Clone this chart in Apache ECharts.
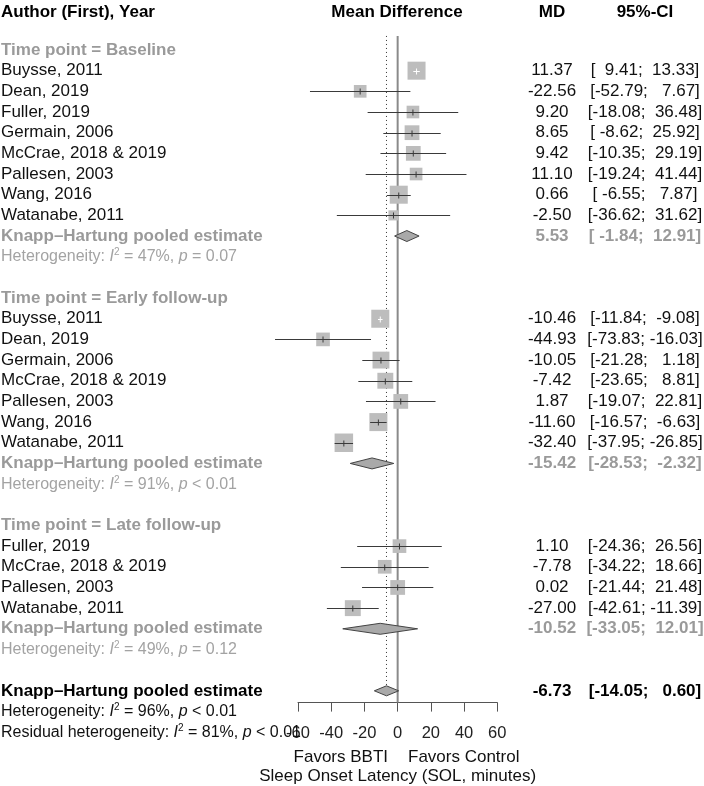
<!DOCTYPE html>
<html><head><meta charset="utf-8">
<script src="https://cdn.jsdelivr.net/npm/echarts@6/dist/echarts.min.js"></script>
<style>html,body{margin:0;padding:0;background:#fff}#c{width:704px;height:786px}</style>
</head><body><div id="c"></div>
<script>
// ---------------- data ----------------
const groupLabels = ['Time point = Baseline', 'Time point = Early follow-up', 'Time point = Late follow-up'];

const baselineAuthors = ['Buysse, 2011', 'Dean, 2019', 'Fuller, 2019', 'Germain, 2006', 'McCrae, 2018 & 2019', 'Pallesen, 2003', 'Wang, 2016', 'Watanabe, 2011'];
const baselineMD = [11.37, -22.56, 9.20, 8.65, 9.42, 11.10, 0.66, -2.50];
const baselineLower = [9.41, -52.79, -18.08, -8.62, -10.35, -19.24, -6.55, -36.62];
const baselineUpper = [13.33, 7.67, 36.48, 25.92, 29.19, 41.44, 7.87, 31.62];
const baselineWeight = [7.3, 3.6, 3.6, 4.9, 4.9, 3.6, 7.3, 2.3];

const earlyAuthors = ['Buysse, 2011', 'Dean, 2019', 'Germain, 2006', 'McCrae, 2018 & 2019', 'Pallesen, 2003', 'Wang, 2016', 'Watanabe, 2011'];
const earlyMD = [-10.46, -44.93, -10.05, -7.42, 1.87, -11.60, -32.40];
const earlyLower = [-11.84, -73.83, -21.28, -23.65, -19.07, -16.57, -37.95];
const earlyUpper = [-9.08, -16.03, 1.18, 8.81, 22.81, -6.63, -26.85];
const earlyWeight = [7.3, 4.2, 6.4, 5.7, 4.9, 7.3, 7.7];

const lateAuthors = ['Fuller, 2019', 'McCrae, 2018 & 2019', 'Pallesen, 2003', 'Watanabe, 2011'];
const lateMD = [1.10, -7.78, 0.02, -27.00];
const lateLower = [-24.36, -34.22, -21.44, -42.61];
const lateUpper = [26.56, 18.66, 21.48, -11.39];
const lateWeight = [4.2, 4.2, 4.9, 5.7];

const pooledLabel = 'Knapp\u2013Hartung pooled estimate';
const pooledMD = [5.53, -15.42, -10.52];
const pooledLower = [-1.84, -28.53, -33.05];
const pooledUpper = [12.91, -2.32, 12.01];
const groupI2 = [47, 91, 49];
const groupP = ['= 0.07', '< 0.01', '= 0.12'];

const overallMD = [-6.73];
const overallLower = [-14.05];
const overallUpper = [0.60];
const overallI2 = [96];
const overallP = ['< 0.01'];
const residualI2 = [81];
const residualP = ['< 0.01'];

const xTicks = [-60, -40, -20, 0, 20, 40, 60];
const headerLabels = ['Author (First), Year', 'Mean Difference', 'MD', '95%-CI'];
const favorLabels = ['Favors BBTI', 'Favors Control'];
const xAxisTitle = 'Sleep Onset Latency (SOL, minutes)';

// ---------------- layout / style ----------------
const FONT = '"Liberation Sans", Arial, Helvetica, sans-serif';
const FS = 17, FS_HET = 16;
const COL_TEXT = '#111', COL_GREY = '#9a9a9a', COL_HET = '#a3a3a3';
const X_LEFT = 1, X_MD = 552, X_CI = 645, X_HEAD_MID = 397;

const groups = [
  {authors: baselineAuthors, md: baselineMD, lo: baselineLower, hi: baselineUpper, w: baselineWeight},
  {authors: earlyAuthors, md: earlyMD, lo: earlyLower, hi: earlyUpper, w: earlyWeight},
  {authors: lateAuthors, md: lateMD, lo: lateLower, hi: lateUpper, w: lateWeight}
];

const fmt = v => v.toFixed(2);
const ci = (lo, hi) => '[' + fmt(lo).padStart(6, ' ') + '; ' + fmt(hi).padStart(6, ' ') + ']';

const studies = [], pooled = [], texts = [];
let row = 0;
function het(i2, p, color, r) {
  texts.push({row: r, x: X_LEFT, align: 'left', rich: true, color: color,
    text: '{n|Heterogeneity: }{i|I}{s|2}{n| = ' + i2 + '%, }{i|p}{n| ' + p + '}'});
}
groups.forEach((g, gi) => {
  texts.push({row: row, x: X_LEFT, align: 'left', text: groupLabels[gi], color: COL_GREY, bold: true});
  row++;
  g.authors.forEach((a, i) => {
    studies.push({row: row, md: g.md[i], lo: g.lo[i], hi: g.hi[i], w: g.w[i]});
    texts.push({row: row, x: X_LEFT, align: 'left', text: a, color: COL_TEXT});
    texts.push({row: row, x: X_MD, align: 'center', text: fmt(g.md[i]), color: COL_TEXT});
    texts.push({row: row, x: X_CI, align: 'center', text: ci(g.lo[i], g.hi[i]), color: COL_TEXT});
    row++;
  });
  pooled.push({row: row, md: pooledMD[gi], lo: pooledLower[gi], hi: pooledUpper[gi], h: 5.5, fill: '#a9a9a9'});
  texts.push({row: row, x: X_LEFT, align: 'left', text: pooledLabel, color: COL_GREY, bold: true});
  texts.push({row: row, x: X_MD, align: 'center', text: fmt(pooledMD[gi]), color: COL_GREY, bold: true});
  texts.push({row: row, x: X_CI, align: 'center', text: ci(pooledLower[gi], pooledUpper[gi]), color: COL_GREY, bold: true});
  row++;
  het(groupI2[gi], groupP[gi], COL_HET, row);
  row += 2;
});
// overall
pooled.push({row: row, md: overallMD[0], lo: overallLower[0], hi: overallUpper[0], h: 5, fill: '#a9a9a9'});
texts.push({row: row, x: X_LEFT, align: 'left', text: pooledLabel, color: '#000', bold: true});
texts.push({row: row, x: X_MD, align: 'center', text: fmt(overallMD[0]), color: '#000', bold: true});
texts.push({row: row, x: X_CI, align: 'center', text: ci(overallLower[0], overallUpper[0]), color: '#000', bold: true});
const overallRow = row;
het(overallI2[0], overallP[0], '#111', row + 1);
texts.push({row: row + 2, x: X_LEFT, align: 'left', rich: true, color: '#111',
  text: '{n|Residual heterogeneity: }{i|I}{s|2}{n| = ' + residualI2[0] + '%, }{i|p}{n| ' + residualP[0] + '}'});
// header
const HEADER_ROW = -1.84;
texts.push({row: HEADER_ROW, x: X_LEFT, align: 'left', text: headerLabels[0], color: '#000', bold: true});
texts.push({row: HEADER_ROW, x: X_HEAD_MID, align: 'center', text: headerLabels[1], color: '#000', bold: true});
texts.push({row: HEADER_ROW, x: X_MD, align: 'center', text: headerLabels[2], color: '#000', bold: true});
texts.push({row: HEADER_ROW, x: X_CI, align: 'center', text: headerLabels[3], color: '#000', bold: true});
// favours labels
const FAVOR_ROW = 34.2;
texts.push({row: FAVOR_ROW, x: 388, align: 'right', text: favorLabels[0], color: '#111'});
texts.push({row: FAVOR_ROW, x: 408, align: 'left', text: favorLabels[1], color: '#111'});

const maxW = Math.max(...baselineWeight, ...earlyWeight, ...lateWeight);
const AXIS_ROW = 31.57;

function richStyles(color) {
  return {
    n: {fontSize: FS_HET, fontFamily: FONT, fill: color, color: color, lineHeight: 18},
    i: {fontSize: FS_HET, fontFamily: FONT, fontStyle: 'italic', fill: color, color: color, lineHeight: 18},
    s: {fontSize: 10, fontFamily: FONT, fill: color, color: color, lineHeight: 10, verticalAlign: 'top'}
  };
}

const chart = echarts.init(document.getElementById('c'), null, {renderer: 'canvas'});
chart.setOption({
  animation: false,
  backgroundColor: '#fff',
  grid: {left: 298, right: 206.7, top: 50, bottom: 786 - 702.6, containLabel: false, outerBoundsMode: 'none'},
  xAxis: {
    type: 'value', min: xTicks[0], max: xTicks[xTicks.length - 1], interval: 20,
    axisLine: {show: true, onZero: false, lineStyle: {color: '#555', width: 1}},
    axisTick: {show: true, inside: false, length: 9, lineStyle: {color: '#555'}},
    axisLabel: {color: '#222', fontSize: 16.5, fontFamily: FONT, margin: 22},
    splitLine: {show: false},
    name: xAxisTitle, nameLocation: 'middle', nameGap: 65,
    nameTextStyle: {color: '#111', fontSize: 17, fontFamily: FONT}
  },
  yAxis: {type: 'value', inverse: true, min: 0, max: AXIS_ROW, show: false},
  series: [
    {
      type: 'custom', name: 'reference', clip: false, z: 1,
      data: [[0, 0]],
      encode: {x: 0, y: 1},
      renderItem: function (params, api) {
        const top0 = api.coord([0, -0.68]);
        const bot0 = api.coord([0, AXIS_ROW]);
        const topD = api.coord([overallMD[0], -0.68]);
        const botD = api.coord([overallMD[0], overallRow - 0.27]);
        return {type: 'group', children: [
          {type: 'line', shape: {x1: topD[0], y1: topD[1], x2: botD[0], y2: botD[1]},
            style: {stroke: '#333', lineWidth: 1, lineDash: [1, 3]}},
          {type: 'line', shape: {x1: top0[0], y1: top0[1], x2: bot0[0], y2: bot0[1]},
            style: {stroke: '#8a8a8a', lineWidth: 2}}
        ]};
      }
    },
    {
      type: 'custom', name: 'studies', clip: false, z: 3,
      data: studies.map(s => [s.md, s.row, s.lo, s.hi, s.w]),
      encode: {x: 0, y: 1},
      renderItem: function (params, api) {
        const s = studies[params.dataIndex];
        const c = api.coord([s.md, s.row]);
        const l = api.coord([s.lo, s.row]);
        const h = api.coord([s.hi, s.row]);
        const size = 18.5 * Math.sqrt(s.w / maxW);
        const y = Math.round(c[1]) + 0.5;
        const inside = (h[0] - l[0]) < size * 0.8;
        const lc = inside ? '#ffffff' : '#3a3a3a';
        return {type: 'group', children: [
          {type: 'rect', shape: {x: c[0] - size / 2, y: c[1] - size / 2, width: size, height: size}, style: {fill: '#bdbdbd'}},
          {type: 'line', shape: {x1: l[0], y1: y, x2: h[0], y2: y}, style: {stroke: lc, lineWidth: 1}},
          {type: 'line', shape: {x1: c[0], y1: y - 3, x2: c[0], y2: y + 3}, style: {stroke: lc, lineWidth: 1}}
        ]};
      }
    },
    {
      type: 'custom', name: 'pooled', clip: false, z: 4,
      data: pooled.map(p => [p.md, p.row, p.lo, p.hi]),
      encode: {x: 0, y: 1},
      renderItem: function (params, api) {
        const p = pooled[params.dataIndex];
        const c = api.coord([p.md, p.row]);
        const l = api.coord([p.lo, p.row]);
        const h = api.coord([p.hi, p.row]);
        return {type: 'polygon', shape: {points: [[l[0], c[1]], [c[0], c[1] - p.h], [h[0], c[1]], [c[0], c[1] + p.h]]},
          style: {fill: p.fill, stroke: '#444', lineWidth: 1}};
      }
    },
    {
      type: 'custom', name: 'texts', clip: false, z: 5,
      data: texts.map(t => [0, t.row]),
      encode: {x: 0, y: 1},
      renderItem: function (params, api) {
        const t = texts[params.dataIndex];
        const y = api.coord([0, t.row])[1];
        const style = {
          text: t.text, x: t.x, y: y, align: t.align, verticalAlign: 'middle',
          fill: t.color, fontSize: FS, fontFamily: FONT, fontWeight: t.bold ? 'bold' : 'normal'
        };
        if (t.rich) { style.rich = richStyles(t.color); style.fontSize = FS_HET; }
        return {type: 'text', x: 0, y: 0, style: style};
      }
    }
  ]
});
</script>
</body></html>
